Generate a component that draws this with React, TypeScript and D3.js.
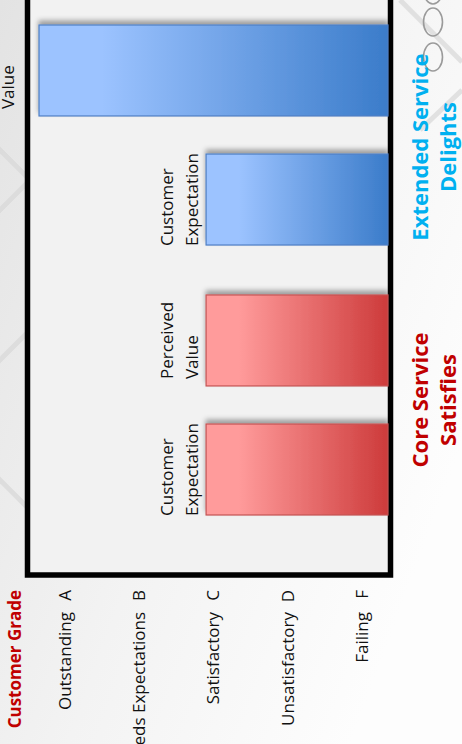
import * as d3 from "d3";
import { useEffect, useRef } from "react";

const W = 462;
const H = 744;

// grade axis
const gradeWords = ["Outstanding", "Exceeds Expectations", "Satisfactory", "Unsatisfactory", "Failing"];
const gradeLetters = ["A", "B", "C", "D", "F"];
const gradeScores = [5, 4, 3, 2, 1];

// groups and bars
const groups = ["Core Service", "Extended Service"];
const groupTitles = [
  ["Core Service", "Satisfies"],
  ["Extended Service", "Delights"],
];
const barNames = ["Customer Expectation", "Perceived Value"];
const barLabels = [
  ["Customer", "Expectation"],
  ["Perceived", "Value"],
];
const coreValues = [3.1, 3.1];
const extendedValues = [3.1, 5.35];

const FONT = "'Open Sans', 'Noto Sans', sans-serif";

export default function App() {
  const svgRef = useRef<SVGSVGElement>(null);

  useEffect(() => {
    if (!svgRef.current) return;
    const svg = d3.select(svgRef.current);
    svg.selectAll("*").remove();

    const defs = svg.append("defs");

    const bg = defs
      .append("linearGradient")
      .attr("id", "bg")
      .attr("x1", 0)
      .attr("y1", 0)
      .attr("x2", 1)
      .attr("y2", 0.6);
    bg.append("stop").attr("offset", 0).attr("stop-color", "#e3e3e3");
    bg.append("stop").attr("offset", 0.55).attr("stop-color", "#f3f3f3");
    bg.append("stop").attr("offset", 1).attr("stop-color", "#fdfdfd");

    const makeGrad = (id: string, light: string, dark: string) => {
      const g = defs
        .append("linearGradient")
        .attr("id", id)
        .attr("x1", 0)
        .attr("y1", 0)
        .attr("x2", 0)
        .attr("y2", 1);
      g.append("stop").attr("offset", 0).attr("stop-color", light);
      g.append("stop").attr("offset", 0.18).attr("stop-color", light);
      g.append("stop").attr("offset", 1).attr("stop-color", dark);
    };
    makeGrad("redGrad", "#ff9b9b", "#cd3b3b");
    makeGrad("blueGrad", "#9cc3ff", "#3b7cca");

    const shadow = defs
      .append("filter")
      .attr("id", "shadow")
      .attr("x", "-20%")
      .attr("y", "-20%")
      .attr("width", "140%")
      .attr("height", "140%");
    shadow
      .append("feDropShadow")
      .attr("dx", 4)
      .attr("dy", 0)
      .attr("stdDeviation", 2.5)
      .attr("flood-color", "#000")
      .attr("flood-opacity", 0.35);

    // background
    svg.append("rect").attr("width", W).attr("height", H).attr("fill", "url(#bg)");

    // faint template lines
    const deco = svg
      .append("g")
      .attr("stroke", "#d8d8d8")
      .attr("stroke-width", 5)
      .attr("fill", "none")
      .attr("opacity", 0.7);
    const decoLines: [number, number, number, number][] = [
      [-20, 380, 60, 300],
      [-20, 460, 60, 540],
      [-30, 120, 30, 180],
      [-30, 240, 30, 180],
      [400, 0, 462, 62],
      [420, 130, 462, 90],
    ];
    deco
      .selectAll("line")
      .data(decoLines)
      .join("line")
      .attr("x1", (d) => d[0])
      .attr("y1", (d) => d[1])
      .attr("x2", (d) => d[2])
      .attr("y2", (d) => d[3]);

    svg
      .append("g")
      .attr("fill", "none")
      .attr("stroke", "#9a9a9a")
      .attr("stroke-width", 1.6)
      .selectAll("ellipse")
      .data([-10, 22, 57])
      .join("ellipse")
      .attr("cx", 433)
      .attr("cy", (d) => d)
      .attr("rx", 9.5)
      .attr("ry", 14);

    // chart drawn in landscape, rotated onto the portrait page
    const CW = H;
    const chart = svg.append("g").attr("transform", `translate(0,${H}) rotate(-90)`);

    const plotLeft = 169;
    const plotTop = 27.5;
    const plotBottom = 390.5;

    chart
      .append("rect")
      .attr("x", plotLeft)
      .attr("y", plotTop)
      .attr("width", CW - plotLeft + 20)
      .attr("height", plotBottom - plotTop)
      .attr("fill", "#f2f2f2")
      .attr("stroke", "#000")
      .attr("stroke-width", 5.5);

    const y = d3.scaleLinear().domain([0.65, 5]).range([388, 65]);

    const x0 = d3.scaleBand<string>().domain(groups).range([229, 719]).paddingInner(0.185).paddingOuter(0);
    const x1 = d3.scaleBand<string>().domain(barNames).range([0, x0.bandwidth()]).paddingInner(0.295).paddingOuter(0);

    const series = [coreValues, extendedValues];
    const fills = ["url(#redGrad)", "url(#blueGrad)"];
    const strokes = ["#c45454", "#4f7fc4"];
    const labelLift = [
      [8, 8],
      [8, 25],
    ];

    groups.forEach((grp, gi) => {
      const gx = x0(grp)!;
      barNames.forEach((name, bi) => {
        const v = series[gi][bi];
        const bx = gx + x1(name)!;
        chart
          .append("rect")
          .attr("x", bx)
          .attr("y", y(v))
          .attr("width", x1.bandwidth())
          .attr("height", y(0.65) - y(v))
          .attr("fill", fills[gi])
          .attr("stroke", strokes[gi])
          .attr("stroke-width", 1.2)
          .attr("filter", "url(#shadow)");

        const lines = barLabels[bi];
        const t = chart
          .append("text")
          .attr("font-family", FONT)
          .attr("font-size", 17)
          .attr("fill", "#111");
        lines.forEach((ln, li) => {
          t.append("tspan")
            .attr("x", 0)
            .attr("y", y(v) - labelLift[gi][bi] - (lines.length - 1 - li) * 25)
            .text(ln);
        });
        const w = (t.node() as SVGTextElement).getBBox().width;
        const cx = bx + x1.bandwidth() / 2;
        t.selectAll("tspan").attr("x", cx - w / 2);
      });

      // group title under the plot
      const title = chart
        .append("text")
        .attr("font-family", FONT)
        .attr("font-size", 22)
        .attr("font-weight", 700)
        .attr("text-anchor", "middle")
        .attr("fill", gi === 0 ? "#c00000" : "#00b0f0");
      groupTitles[gi].forEach((ln, li) => {
        title
          .append("tspan")
          .attr("x", gx + x0.bandwidth() / 2 + (gi === 0 ? 5 : -12))
          .attr("y", 428 + li * 28)
          .text(ln);
      });
    });

    // grade axis
    const axis = chart.append("g").attr("font-family", FONT).attr("font-size", 17).attr("fill", "#111");
    axis
      .selectAll("text.letter")
      .data(gradeScores)
      .join("text")
      .attr("class", "letter")
      .attr("x", 154)
      .attr("y", (d) => y(d))
      .attr("dy", "0.35em")
      .attr("text-anchor", "end")
      .text((_d, i) => gradeLetters[i]);
    axis
      .selectAll("text.word")
      .data(gradeScores)
      .join("text")
      .attr("class", "word")
      .attr("x", 132)
      .attr("y", (d) => y(d))
      .attr("dy", "0.35em")
      .attr("text-anchor", "end")
      .text((_d, i) => gradeWords[i]);

    chart
      .append("text")
      .attr("x", 154)
      .attr("y", 21)
      .attr("text-anchor", "end")
      .attr("font-family", FONT)
      .attr("font-size", 17)
      .attr("font-weight", 700)
      .attr("fill", "#c00000")
      .text("Customer Grade");
  }, []);

  return (
    <svg
      ref={svgRef}
      width={W}
      height={H}
      style={{ position: "absolute", left: 0, top: 0, display: "block" }}
    />
  );
}
